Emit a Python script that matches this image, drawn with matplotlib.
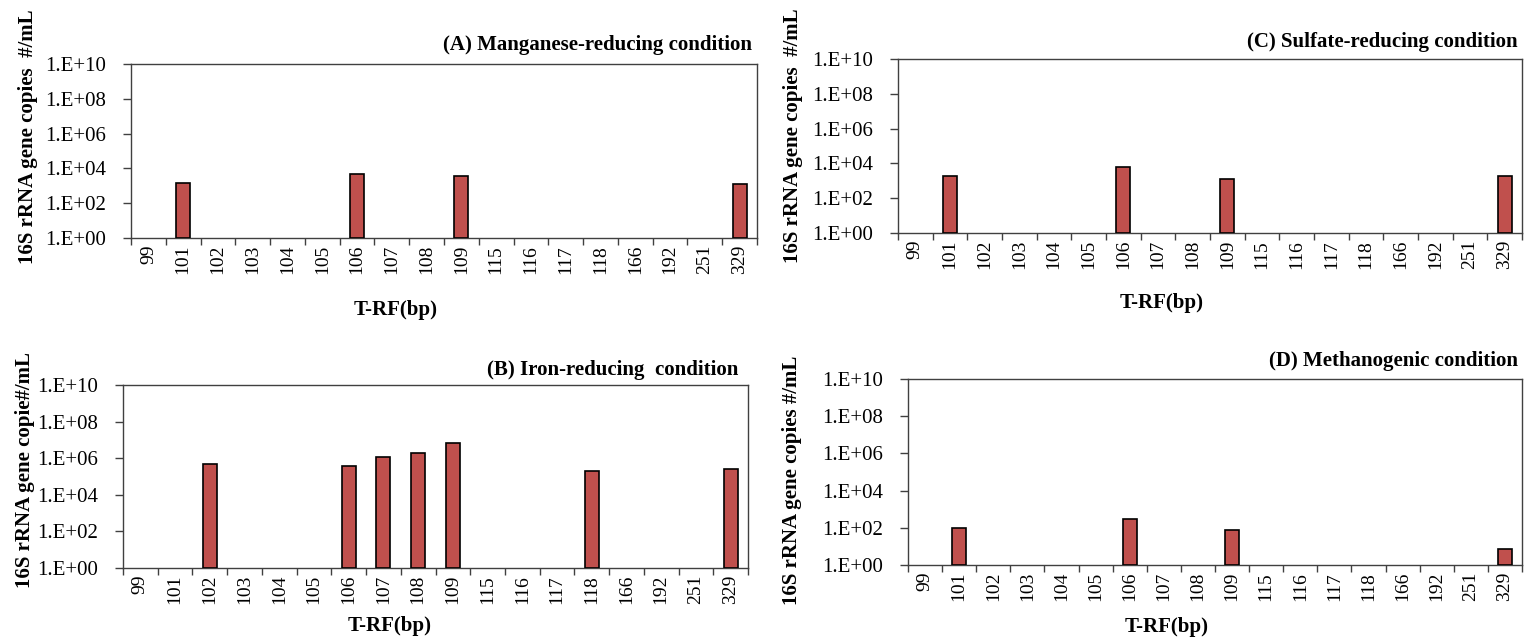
import numpy as np
import matplotlib
matplotlib.use("Agg")
import matplotlib.pyplot as plt
import matplotlib.ticker as mticker

plt.rcParams["font.family"] = ["Liberation Serif", "DejaVu Serif"]

# T-RF categories (bp)
trf = ["99", "101", "102", "103", "104", "105", "106", "107", "108",
       "109", "115", "116", "117", "118", "166", "192", "251", "329"]

# 16S rRNA gene copies #/mL per T-RF (0 = not detected)
mn_vals = [0, 1.5e3, 0, 0, 0, 0, 4.5e3, 0, 0,
           3.5e3, 0, 0, 0, 0, 0, 0, 0, 1.3e3]
fe_vals = [0, 0, 4.7e5, 0, 0, 0, 3.8e5, 1.2e6, 1.9e6,
           7.0e6, 0, 0, 0, 1.9e5, 0, 0, 0, 2.7e5]
so4_vals = [0, 1.9e3, 0, 0, 0, 0, 5.9e3, 0, 0,
            1.2e3, 0, 0, 0, 0, 0, 0, 0, 1.8e3]
ch4_vals = [0, 1.0e2, 0, 0, 0, 0, 2.8e2, 0, 0,
            71, 0, 0, 0, 0, 0, 0, 0, 5.9]

titles = ["(A) Manganese-reducing condition",
          "(B) Iron-reducing  condition",
          "(C) Sulfate-reducing condition",
          "(D) Methanogenic condition"]
ylabels = ["16S rRNA gene copies  #/mL",
           "16S rRNA gene copie#/mL",
           "16S rRNA gene copies  #/mL",
           "16S rRNA gene copies #/mL"]

W, H = 1526, 644
fig = plt.figure(figsize=(W / 100, H / 100), dpi=100)

def rect(l, r, t, b):
    return [l / W, 1 - b / H, (r - l) / W, (b - t) / H]

# panel layout in pixels: axes box, title, ylabel, xlabel
panels = [
    dict(vals=mn_vals, box=(131, 757, 64, 238), title=titles[0],
         tpos=(752, 45), ylab=ylabels[0], ypos=(28, 137), xpos=(396, 310)),
    dict(vals=fe_vals, box=(123, 748, 385, 568), title=titles[1],
         tpos=(738, 370), ylab=ylabels[1], ypos=(25, 470), xpos=(390, 626)),
    dict(vals=so4_vals, box=(898, 1522, 59, 233), title=titles[2],
         tpos=(1518, 42), ylab=ylabels[2], ypos=(793, 136), xpos=(1162, 303)),
    dict(vals=ch4_vals, box=(908, 1522, 379, 565), title=titles[3],
         tpos=(1518, 361), ylab=ylabels[3], ypos=(792, 480), xpos=(1167, 627)),
]

BAR_COLOR = "#C0504D"
SPINE = "#404040"

for p in panels:
    ax = fig.add_axes(rect(*p["box"]))
    x = np.arange(len(trf))
    v = np.array(p["vals"], dtype=float)
    keep = v > 0
    ax.bar(x[keep], v[keep], width=0.4, bottom=1, color=BAR_COLOR,
           edgecolor="black", linewidth=1.2, zorder=3)
    ax.set_yscale("log")
    ax.set_ylim(1, 1e10)
    ax.set_xlim(-0.5, len(trf) - 0.5)
    ax.set_yticks([10.0 ** k for k in range(0, 11, 2)])
    ax.yaxis.set_major_formatter(
        mticker.FuncFormatter(lambda y, pos: "1.E+%02d" % round(np.log10(y))))
    ax.yaxis.set_minor_locator(mticker.NullLocator())
    # ticks between categories, labels at centres
    ax.set_xticks(np.arange(-0.5, len(trf), 1.0))
    ax.set_xticklabels([])
    ax.set_xticks(x, minor=True)
    ax.set_xticklabels(trf, minor=True, rotation=90, fontsize=14)
    ax.tick_params(axis="x", which="minor", length=0, pad=5)
    ax.tick_params(axis="x", which="major", length=5, width=1, color=SPINE,
                   direction="out")
    ax.tick_params(axis="y", length=6, width=1, color=SPINE, labelsize=15,
                   pad=12)
    for s in ax.spines.values():
        s.set_color(SPINE)
        s.set_linewidth(1)

    fig.text(p["tpos"][0] / W, 1 - p["tpos"][1] / H, p["title"],
             ha="right", va="center", fontsize=15, fontweight="bold")
    fig.text(p["ypos"][0] / W, 1 - p["ypos"][1] / H, p["ylab"],
             ha="center", va="center", rotation=90, fontsize=15,
             fontweight="bold")
    fig.text(p["xpos"][0] / W, 1 - p["xpos"][1] / H, "T-RF(bp)",
             ha="center", va="center", fontsize=15, fontweight="bold")

plt.savefig("out.png", dpi=100)
